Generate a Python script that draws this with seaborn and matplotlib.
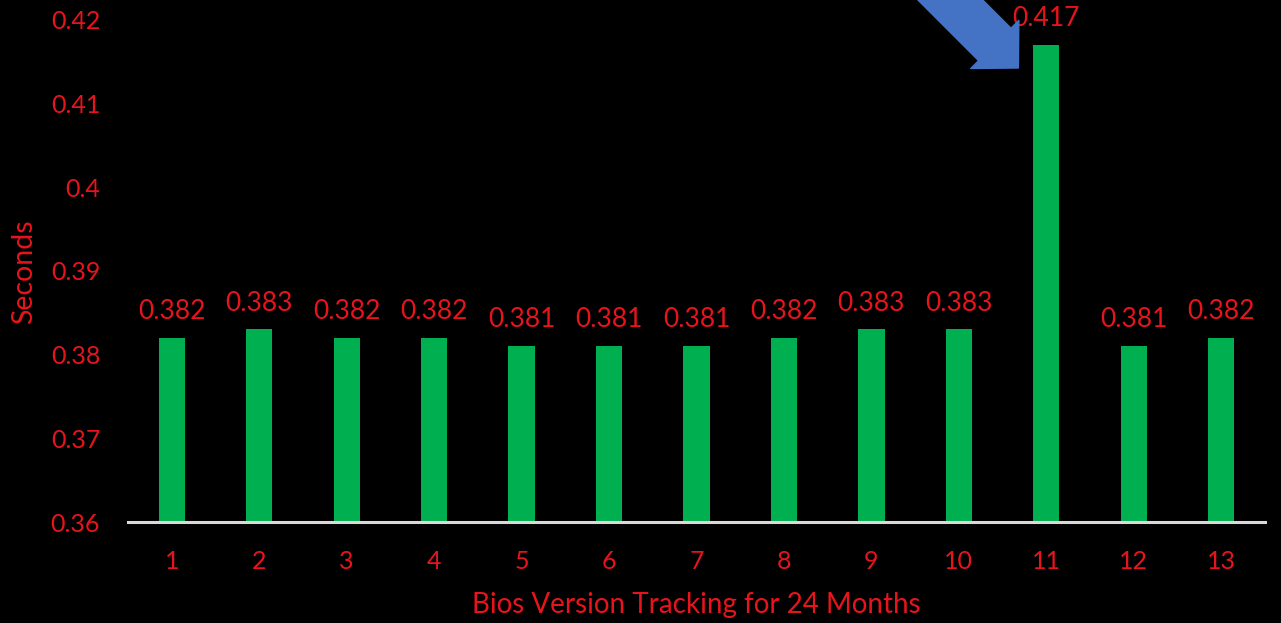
import matplotlib
matplotlib.use("Agg")
import matplotlib.pyplot as plt
import seaborn as sns
import pandas as pd

# Boot time per BIOS version
versions = [str(i) for i in range(1, 14)]
seconds = [0.382, 0.383, 0.382, 0.382, 0.381, 0.381, 0.381,
           0.382, 0.383, 0.383, 0.417, 0.381, 0.382]
y_ticks = [0.36, 0.37, 0.38, 0.39, 0.40, 0.41, 0.42]
y_tick_labels = ["0.36", "0.37", "0.38", "0.39", "0.4", "0.41", "0.42"]

RED = "#E8141B"
GREEN = "#00B050"
BLUE = "#4472C4"
AXIS = "#D9D9D9"

sns.set_theme(style="white")
plt.rcParams["font.family"] = ["Lato", "DejaVu Sans"]

df = pd.DataFrame({"version": versions, "seconds": seconds})

W, H, DPI = 1281, 623, 100
fig = plt.figure(figsize=(W / DPI, H / DPI), dpi=DPI, facecolor="black")
ax = fig.add_axes([128 / W, 101 / H, 1137 / W, 522 / H])
ax.set_facecolor("black")

sns.barplot(data=df, x="version", y="seconds", color=GREEN, saturation=1,
            width=0.3, linewidth=0, edgecolor=GREEN, ax=ax)

ax.set_xlim(-0.5, 12.5)
ax.set_ylim(0.36, 0.36 + 522 / 8370)
ax.set_yticks(y_ticks)
ax.set_yticklabels(y_tick_labels)

for side in ("left", "right", "top"):
    ax.spines[side].set_visible(False)
ax.spines["bottom"].set_color(AXIS)
ax.spines["bottom"].set_linewidth(2.2)

ax.tick_params(axis="both", length=0, labelcolor=RED, labelsize=18)
ax.tick_params(axis="y", pad=20)
ax.tick_params(axis="x", pad=20)

ax.set_xlabel("Bios Version Tracking for 24 Months", color=RED, fontsize=20,
              labelpad=14)
ax.set_ylabel("Seconds", color=RED, fontsize=20.5)
ax.yaxis.set_label_coords(-0.080, 0.479)

ax.bar_label(ax.containers[0], labels=[f"{v:.3f}" for v in seconds],
             padding=10, color=RED, fontsize=19)

# Callout arrow pointing at the spike on version 11
peak = seconds.index(max(seconds))
ax.annotate("", xy=(peak - 0.32, 0.36 + (522 - 68) / 8370), xycoords="data",
            xytext=(-80, 80), textcoords="offset points",
            arrowprops=dict(arrowstyle="simple,head_length=24,head_width=49,tail_width=33",
                            mutation_scale=1, facecolor=BLUE, edgecolor=BLUE,
                            shrinkA=0, shrinkB=0),
            annotation_clip=False)

fig.savefig("out.png", dpi=DPI, facecolor="black")
